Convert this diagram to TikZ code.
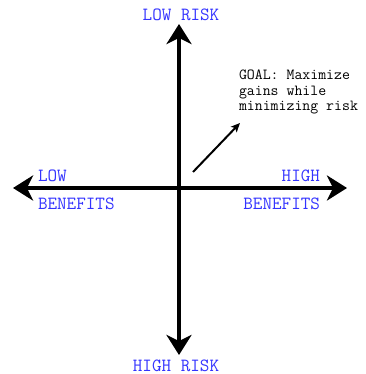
\documentclass[tikz,border=0pt]{standalone}
\usepackage{fontspec}
\usetikzlibrary{arrows.meta}
\definecolor{labelcolor}{RGB}{51,51,255}
\tikzset{
  axis/.style={line width=4pt,{Stealth[length=20pt,width=25pt,inset=6pt]}-{Stealth[length=20pt,width=25pt,inset=6pt]}},
  goalarrow/.style={line width=2pt,-{Stealth[length=9pt,width=8pt,inset=2pt]}},
  axislabel/.style={inner sep=0pt,outer sep=0pt,text=labelcolor,font=\fontsize{18.6}{20}\ttfamily},
  goallabel/.style={inner sep=0pt,outer sep=0pt,align=left,font=\fontsize{15.4}{15.4}\ttfamily}
}
\begin{document}
\begin{tikzpicture}[x=1pt,y=-1pt]
\useasboundingbox (0,0) rectangle (365,374);
% axes
\coordinate (top) at (179,24);
\coordinate (bottom) at (179,355);
\coordinate (left) at (13,188);
\coordinate (right) at (347,188);
\draw[axis] (bottom) -- (top);
\draw[axis] (left) -- (right);
% labels
\node[axislabel,anchor=base] (lowrisk) at (181,21) {LOW RISK};
\node[axislabel,anchor=base] (highrisk) at (176,371) {HIGH RISK};
\node[axislabel,anchor=base west] (low) at (38,181) {LOW};
\node[axislabel,anchor=base west] (lowben) at (38,209) {BENEFITS};
\node[axislabel,anchor=base east] (high) at (320,181) {HIGH};
\node[axislabel,anchor=base east] (highben) at (320,209) {BENEFITS};
% goal
\node[goallabel,anchor=north west] (goal) at (239,70) {GOAL: Maximize\\gains while\\minimizing risk};
\coordinate (goalfrom) at (193,172);
\coordinate (goalto) at (240,123);
\draw[goalarrow] (goalfrom) -- (goalto);
\end{tikzpicture}
\end{document}
